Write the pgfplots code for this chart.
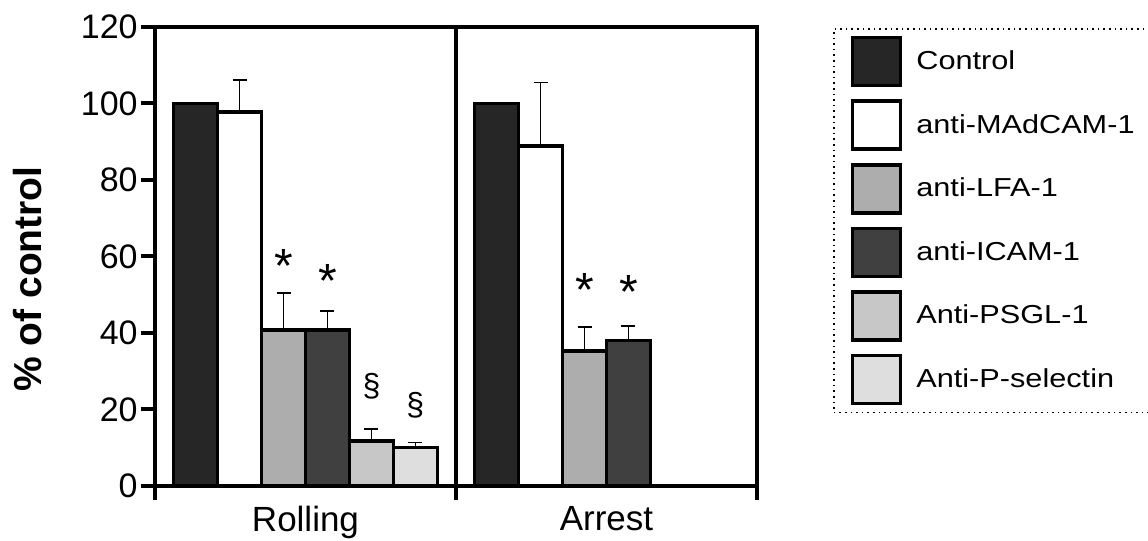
\documentclass[border=0pt]{standalone}
\usepackage{fontspec}
\setmainfont{Liberation Sans}
\newfontfamily\legfont{Liberation Sans}[FakeStretch=1.18]
\usepackage{pgfplots}
\pgfplotsset{compat=1.18}
\begin{document}
\begin{tikzpicture}
\path[use as bounding box, clip] (0pt,0pt) rectangle (574pt,270.5pt);
\begin{axis}[
  at={(77.5pt,27.5pt)}, anchor=south west,
  scale only axis, width=301pt, height=229.5pt,
  xmin=-0.5, xmax=1.5, ymin=0, ymax=120,
  ytick={0,20,40,60,80,100,120},
  xtick={-0.5,0.5,1.5}, xticklabels={,,},
  extra x ticks={0,1}, extra x tick labels={Rolling,Arrest},
  extra x tick style={major tick length=0pt, xticklabel style={font=\fontsize{17.5}{20}\selectfont, yshift=-6.5pt}},
  xtick pos=bottom, ytick pos=left, tick align=outside,
  major tick length=7pt,
  tick style={line width=2pt, black},
  axis line style={line width=2pt},
  /pgf/number format/assume math mode=true,
  yticklabel style={font=\fontsize{17}{20}\selectfont, inner xsep=1.5pt},
  ylabel={\bfseries\fontsize{19.5}{22}\selectfont \% of control},
  ylabel style={at={(axis description cs:-0.211,0.451)}, anchor=center, rotate=0},
  ybar, bar width=0.146,
  error bars/y dir=plus, error bars/y explicit,
  error bars/error mark=-,
  error bars/error bar style={line width=0.7pt, black},
  error bars/error mark options={rotate=90, line width=0.7pt, mark size=3.5pt, black},
  legend cell align=left,
  legend style={at={(axis description cs:1.1262,0.9978)}, anchor=north west,
    draw=black, dotted, line width=0.8pt,
    font=\legfont\fontsize{13}{15}\selectfont,
    row sep=6pt, column sep=5pt, inner xsep=8.5pt, inner ysep=3.5pt},
  legend image code/.code={\draw[#1,solid] (0pt,-12pt) rectangle (24pt,12pt);},
]
\addplot[bar shift=-0.365, fill=black!85, draw=black, line width=1.8pt]
  coordinates {(0,100) +- (0,0) (1,100) +- (0,0)};
\addlegendentry{Control}
\addplot[bar shift=-0.219, fill=white, draw=black, line width=1.8pt]
  coordinates {(0,97.8) +- (0,8.3) (1,88.9) +- (0,16.6)};
\addlegendentry{anti-MAdCAM-1\hspace{10pt}}
\addplot[bar shift=-0.073, fill=black!32, draw=black, line width=1.8pt]
  coordinates {(0,40.8) +- (0,9.7) (1,35.3) +- (0,6.3)};
\addlegendentry{anti-LFA-1}
\addplot[bar shift=0.073, fill=black!75, draw=black, line width=1.8pt]
  coordinates {(0,40.8) +- (0,5.0) (1,38.0) +- (0,3.8)};
\addlegendentry{anti-ICAM-1}
\addplot[bar shift=0.219, fill=black!22, draw=black, line width=1.8pt]
  coordinates {(0,11.8) +- (0,3.1)};
\addlegendentry{Anti-PSGL-1}
\addplot[bar shift=0.365, fill=black!13, draw=black, line width=1.8pt]
  coordinates {(0,10.1) +- (0,1.2)};
\addlegendentry{Anti-P-selectin}
\draw[line width=2pt] (axis cs:0.5,0) -- (axis cs:0.5,120);
\node[font=\fontsize{24}{24}\selectfont] at (axis cs:-0.073,57.5) {*};
\node[font=\fontsize{24}{24}\selectfont] at (axis cs:0.073,53.6) {*};
\node[font=\fontsize{24}{24}\selectfont] at (axis cs:0.927,51.3) {*};
\node[font=\fontsize{24}{24}\selectfont] at (axis cs:1.073,50.7) {*};
\node[font=\fontsize{16}{18}\selectfont] at (axis cs:0.219,26) {\S};
\node[font=\fontsize{16}{18}\selectfont] at (axis cs:0.365,21.2) {\S};
\end{axis}
\end{tikzpicture}
\end{document}
